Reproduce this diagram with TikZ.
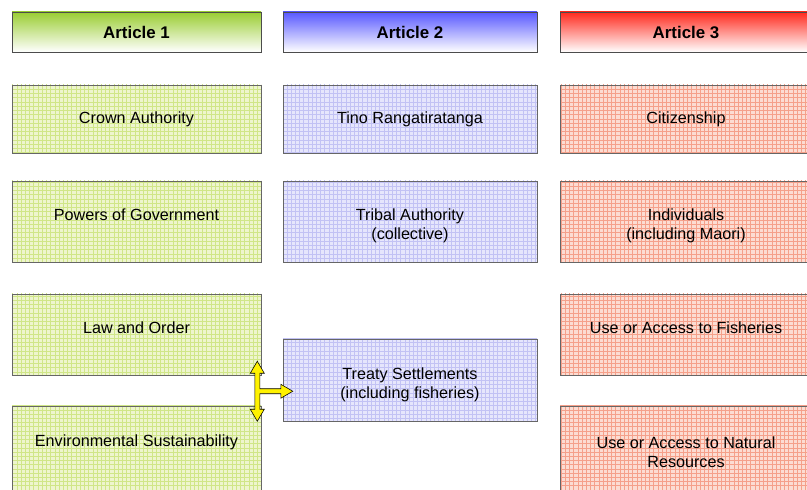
\documentclass[tikz,border=0pt]{standalone}
\usepackage{fontspec}
\setmainfont{Liberation Sans}
\usepackage{xcolor}
\usetikzlibrary{patterns,calc}
\definecolor{artGreen}{HTML}{9ACD32}
\definecolor{artBlue}{HTML}{5858FF}
\definecolor{artRed}{HTML}{FF2A1E}
\definecolor{gridGreen}{HTML}{EEF5CE}
\definecolor{gridBlue}{HTML}{E6E6FC}
\definecolor{gridRed}{HTML}{FCDCD2}
\definecolor{lineGreen}{HTML}{D0E688}
\definecolor{lineBlue}{HTML}{C2C2F4}
\definecolor{lineRed}{HTML}{F5A08A}

\tikzset{
  head/.style={draw=black!70, semithick, rectangle, minimum height=1cm, font=\fontsize{12}{14}\selectfont\bfseries, bottom color=white},
  topic/.style={rectangle, align=center, font=\fontsize{11.5}{13.5}\selectfont, postaction={draw=black!60}},
  upper/.style={text height=8pt, text depth=10pt},
  lower/.style={text height=28pt},
  greenbox/.style={minimum width=6.225cm, fill=gridGreen, postaction={pattern=grid, pattern color=lineGreen}, topic},
  bluebox/.style={minimum width=6.35cm, fill=gridBlue, postaction={pattern=grid, pattern color=lineBlue}, topic},
  redbox/.style={minimum width=6.3cm, fill=gridRed, postaction={pattern=grid, pattern color=lineRed}, topic},
}

\begin{document}
\begin{tikzpicture}
\useasboundingbox (0,0) rectangle (20.175,-12.25);
\clip (0,0) rectangle (20.175,-12.25);
% headers
\node[head, minimum width=6.225cm, top color=artGreen] (art1) at (3.4125,-0.8) {Article 1};
\node[head, minimum width=6.35cm, top color=artBlue] (art2) at (10.25,-0.8) {Article 2};
\node[head, minimum width=6.3cm, top color=artRed] (art3) at (17.15,-0.8) {Article 3};
% article 1
\node[greenbox, minimum height=1.7cm] (crown) at (3.4125,-2.975) {Crown Authority};
\node[greenbox, upper, minimum height=2.025cm] (govt) at (3.4125,-5.5375) {Powers of Government};
\node[greenbox, upper, minimum height=2.025cm] (law) at (3.4125,-8.3625) {Law and Order};
\node[greenbox, upper, minimum height=2.1cm] (env) at (3.4125,-11.2) {Environmental Sustainability};
% article 2
\node[bluebox, minimum height=1.7cm] (tino) at (10.25,-2.975) {Tino Rangatiratanga};
\node[bluebox, lower, minimum height=2.025cm] (tribal) at (10.25,-5.5375) {Tribal Authority\\(collective)};
\node[bluebox, lower, minimum height=2.05cm] (treaty) at (10.25,-9.5) {Treaty Settlements\\(including fisheries)};
% article 3
\node[redbox, minimum height=1.7cm] (citizen) at (17.15,-2.975) {Citizenship};
\node[redbox, lower, minimum height=2.025cm] (indiv) at (17.15,-5.5375) {Individuals\\(including Maori)};
\node[redbox, upper, minimum height=2.025cm] (fish) at (17.15,-8.3625) {Use or Access to Fisheries};
\node[redbox, lower, minimum height=2.1cm] (natural) at (17.15,-11.2) {Use or Access to Natural\\Resources};
% three-way arrow
\coordinate (hub) at ($(law.east)!0.5!(env.east)+(-0.1,0)$);
\draw[fill=yellow, draw=black, line join=miter]
  ($(hub)+(-0.0625,0.45)$) -- ++(-0.1125,0) -- ($(hub)+(0,0.75)$) -- ($(hub)+(0.175,0.45)$) -- ++(-0.1125,0)
  -- ($(hub)+(0.0625,0.0625)$) -- ($(hub)+(0.5875,0.0625)$) -- ++(0,0.1125) -- ($(hub)+(0.8875,0)$)
  -- ($(hub)+(0.5875,-0.175)$) -- ++(0,0.1125) -- ($(hub)+(0.0625,-0.0625)$) -- ($(hub)+(0.0625,-0.45)$)
  -- ++(0.1125,0) -- ($(hub)+(0,-0.75)$) -- ($(hub)+(-0.175,-0.45)$) -- ++(0.1125,0) -- cycle;
\end{tikzpicture}
\end{document}
